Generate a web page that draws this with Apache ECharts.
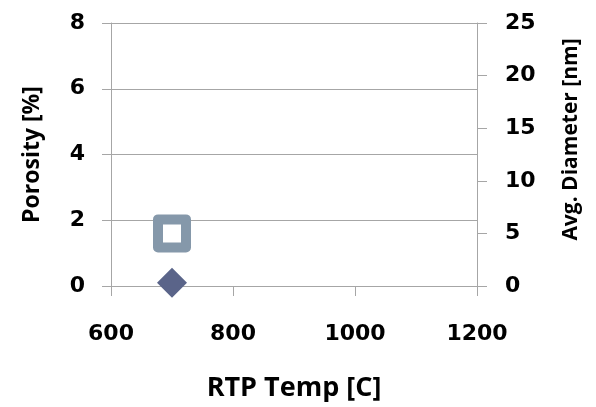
<!DOCTYPE html>
<html><head><meta charset="utf-8">
<script src="https://cdn.jsdelivr.net/npm/echarts@6/dist/echarts.min.js"></script>
<style>html,body{margin:0;padding:0;background:#fff}#c{width:596px;height:407px}</style>
</head><body><div id="c"></div>
<script>
var rtpTemp = [700];
var porosity = [0.1];
var avgDiameter = [5];
var xTicks = {min: 600, max: 1200, interval: 200};
var leftTicks = {min: 0, max: 8, interval: 2};
var rightTicks = {min: 0, max: 25, interval: 5};

var FONT = 'DejaVu Sans';
var NAMEFONT = 'Open Sans';
var axisGrey = '#a6a6a6';
var labelStyle = {color: '#000', fontFamily: FONT, fontWeight: 'bold', fontSize: 22,
  formatter: function (v) { return String(v); }};
function nameStyle(sz, pad) { return {color: '#000', fontFamily: NAMEFONT, fontWeight: 'bold', fontSize: sz, padding: pad || 0}; }

var chart = echarts.init(document.getElementById('c'));
chart.setOption({
  animation: false,
  grid: {left: 111, right: 119, top: 23, bottom: 120, containLabel: false},
  xAxis: {
    type: 'value', min: xTicks.min, max: xTicks.max, interval: xTicks.interval,
    name: 'RTP Temp [C]', nameLocation: 'middle', nameGap: 89, nameTextStyle: nameStyle(27),
    axisLine: {show: true, lineStyle: {color: axisGrey, width: 1}},
    axisTick: {show: true, inside: false, length: 10, lineStyle: {color: axisGrey}},
    axisLabel: Object.assign({margin: 37}, labelStyle),
    splitLine: {show: false}
  },
  yAxis: [{
    type: 'value', position: 'left', min: leftTicks.min, max: leftTicks.max, interval: leftTicks.interval,
    name: 'Porosity [%]', nameLocation: 'middle', nameGap: 67, nameRotate: 90, nameTextStyle: nameStyle(23),
    axisLine: {show: true, lineStyle: {color: axisGrey, width: 1}},
    axisTick: {show: true, inside: false, length: 9, lineStyle: {color: axisGrey}},
    axisLabel: Object.assign({margin: 26}, labelStyle),
    splitLine: {show: true, lineStyle: {color: axisGrey, width: 1}}
  }, {
    type: 'value', position: 'right', min: rightTicks.min, max: rightTicks.max, interval: rightTicks.interval,
    name: 'Avg. Diameter [nm]', nameLocation: 'middle', nameGap: 84, nameRotate: 90,
    nameTextStyle: nameStyle(21, [0, 0, 0, 30]),
    axisLine: {show: true, lineStyle: {color: axisGrey, width: 1}},
    axisTick: {show: true, inside: false, length: 10, lineStyle: {color: axisGrey}},
    axisLabel: Object.assign({margin: 28}, labelStyle),
    splitLine: {show: false}
  }],
  series: [{
    name: 'Avg. Diameter', type: 'scatter', yAxisIndex: 1,
    data: rtpTemp.map(function (t, i) { return [t, avgDiameter[i]]; }),
    symbol: 'rect', symbolSize: 28,
    itemStyle: {color: '#ffffff', borderColor: '#8598aa', borderWidth: 10, borderJoin: 'round', opacity: 1}
  }, {
    name: 'Porosity', type: 'scatter', yAxisIndex: 0,
    data: rtpTemp.map(function (t, i) { return [t, porosity[i]]; }),
    symbol: 'diamond', symbolSize: 30,
    itemStyle: {color: '#5a6489', opacity: 1}
  }]
});
</script></body></html>
